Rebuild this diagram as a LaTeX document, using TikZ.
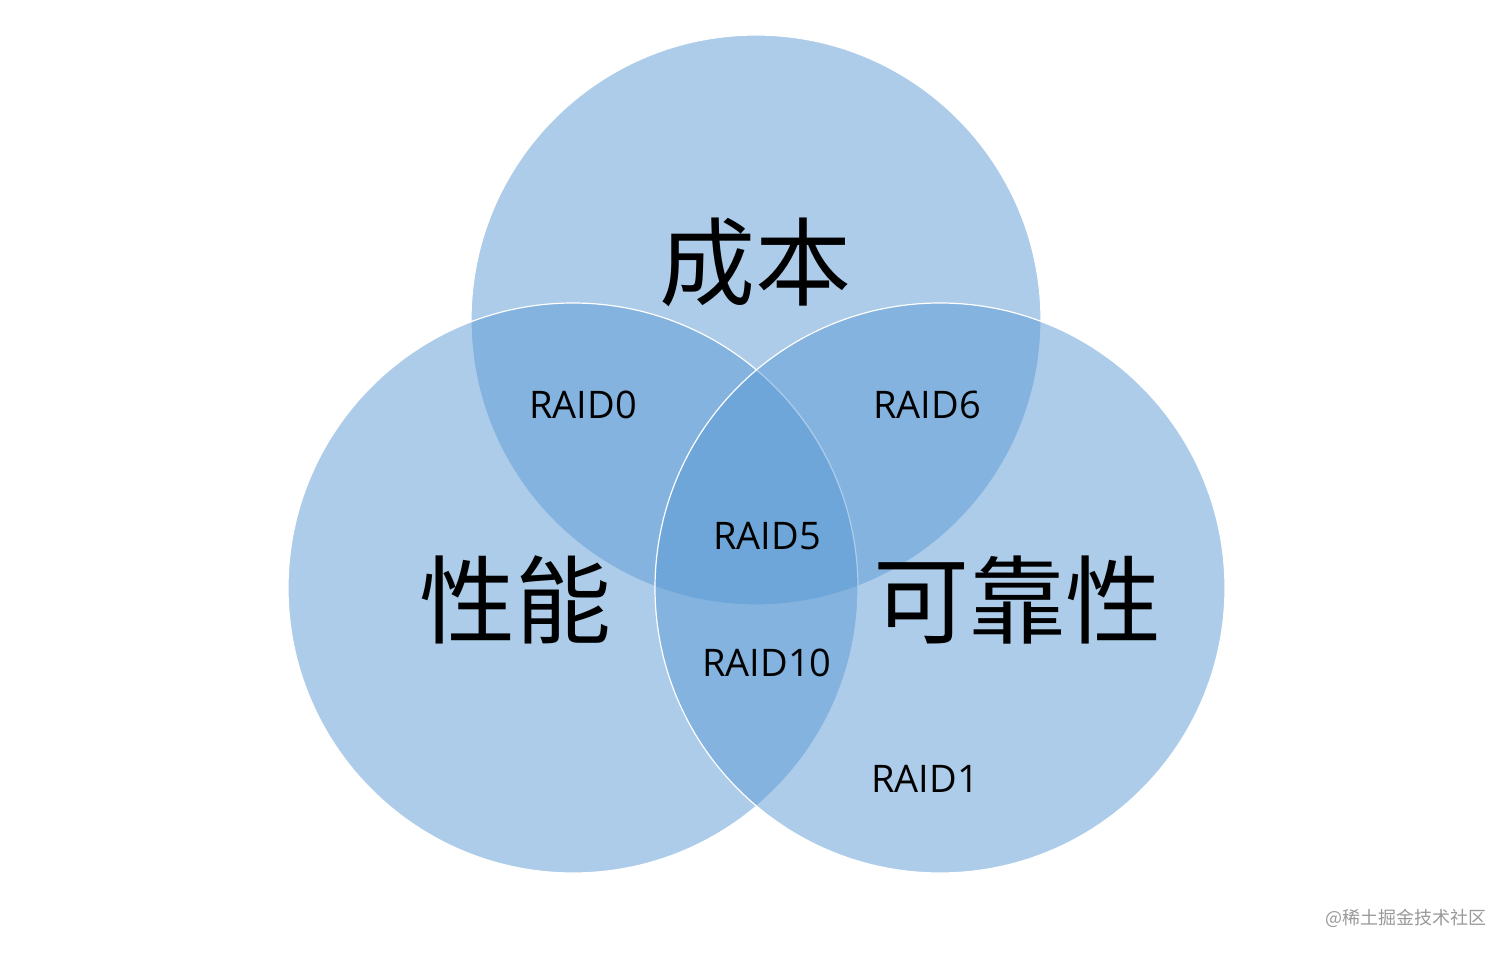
\documentclass[tikz,border=0pt]{standalone}
\usepackage{fontspec}
\setmainfont{Open Sans}
\newfontfamily\cjk{Noto Sans CJK SC}
\definecolor{vb}{HTML}{5B9BD5}
\begin{document}
\begin{tikzpicture}[x=1pt,y=-1pt,
  venn/.style={fill=vb,fill opacity=0.5,draw=white,line width=1.2pt},
  raid/.style={font=\fontsize{38}{40}\selectfont,text=black},
  big/.style={font=\cjk\fontsize{96}{100}\selectfont,text=black}]
\useasboundingbox[fill=white] (0,0) rectangle (1512,955);
\path[venn] (756,320) circle (285);
\path[venn] (573,588) circle (285);
\path[venn] (940,588) circle (285);
\node[big] (cb) at (755,262) {成本};
\node[big] (xn) at (515,600) {性能};
\node[big] (kk) at (1017,600) {可靠性};
\node[raid] (r0) at (583,405) {RAID0};
\node[raid] (r6) at (927,405) {RAID6};
\node[raid] (r5) at (767,536) {RAID5};
\node[raid] (r10) at (767,663) {RAID10};
\node[raid] (r1) at (925,779) {RAID1};
\node[font=\cjk\fontsize{18}{20}\selectfont,text=gray!80] (wm) at (1406,918) {@稀土掘金技术社区};
\end{tikzpicture}
\end{document}
